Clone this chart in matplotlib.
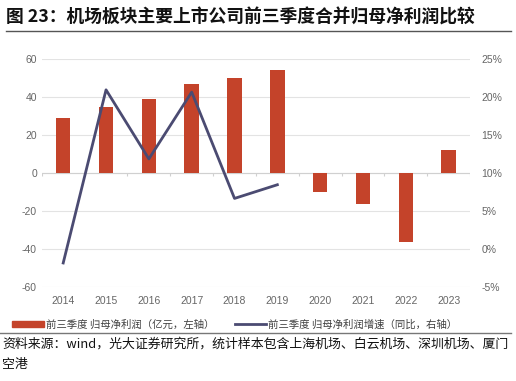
import matplotlib.pyplot as plt
import numpy as np

plt.rcParams['font.family'] = ['Noto Sans CJK SC', 'DejaVu Sans']
plt.rcParams['axes.unicode_minus'] = False

# data
years = ['2014', '2015', '2016', '2017', '2018', '2019', '2020', '2021', '2022', '2023']
profit = [28.9, 34.9, 39.1, 47.2, 50.4, 54.6, -10.0, -16.0, -36.0, 12.1]  # 亿元
growth = [-1.8, 21.0, 11.9, 20.7, 6.7, 8.5]  # %, 2014-2019

bar_color = '#C4432A'
line_color = '#4B4B72'
grid_color = '#E3E3E3'
tick_color = '#666666'

fig = plt.figure(figsize=(5.16, 3.81), dpi=100)

# title and rules
fig.text(0.012, 0.955, '图 23：机场板块主要上市公司前三季度合并归母净利润比较',
         fontsize=12.8, fontweight='bold', va='center', ha='left', color='#111111')
fig.add_artist(plt.Line2D([0.012, 0.99], [0.918, 0.918], color='#555555', lw=1.0))
fig.add_artist(plt.Line2D([0.0, 0.99], [0.126, 0.126], color='#777777', lw=1.0))
fig.text(0.004, 0.098, '资料来源：wind，光大证券研究所，统计样本包含上海机场、白云机场、深圳机场、厦门',
         fontsize=9.3, va='center', ha='left', color='#111111')
fig.text(0.004, 0.042, '空港', fontsize=9.3, va='center', ha='left', color='#111111')

ax = fig.add_axes([0.081, 0.246, 0.83, 0.598])
x = np.arange(len(years))
bars = ax.bar(x, profit, width=0.34, color=bar_color, zorder=3)
ax.set_xlim(-0.5, len(years) - 0.5)
ax.set_ylim(-60, 60)
ax.set_yticks(np.arange(-60, 61, 20))
ax.set_xticks(x)
ax.set_xticklabels(years)
ax.tick_params(axis='both', length=0, labelsize=7.5, labelcolor=tick_color)
ax.tick_params(axis='x', pad=6)
for lab in ax.get_xticklabels() + ax.get_yticklabels():
    lab.set_family(['Liberation Sans', 'DejaVu Sans'])
ax.grid(axis='y', color=grid_color, lw=0.8, zorder=0)
for s in ax.spines.values():
    s.set_visible(False)
# zero axis with small category ticks
ax.axhline(0, color='#D0D0D0', lw=0.8, zorder=2)
ax.vlines(np.arange(-0.5, len(years)), -1.2, 0, color='#D0D0D0', lw=0.8, zorder=2)

ax2 = ax.twinx()
line, = ax2.plot(x[:len(growth)], growth, color=line_color, lw=2.0, zorder=4)
ax2.set_ylim(-5, 25)
ax2.set_yticks(np.arange(-5, 26, 5))
ax2.set_yticklabels([f'{v}%' for v in range(-5, 26, 5)])
ax2.tick_params(axis='y', length=0, labelsize=7.5, labelcolor=tick_color, pad=8)
for lab in ax2.get_yticklabels():
    lab.set_family(['Liberation Sans', 'DejaVu Sans'])
for s in ax2.spines.values():
    s.set_visible(False)

handle_bar = plt.Rectangle((0, 0), 1, 1, color=bar_color)
leg = fig.legend([handle_bar, line],
                 ['前三季度 归母净利润（亿元，左轴）', '前三季度 归母净利润增速（同比，右轴）'],
                 loc='center', bbox_to_anchor=(0.455, 0.148), ncol=2, frameon=False,
                 fontsize=7.5, handlelength=3.0, handleheight=0.5, handletextpad=0.2,
                 columnspacing=2.0)
for t in leg.get_texts():
    t.set_color('#404040')

fig.savefig('out.png', dpi=100)
